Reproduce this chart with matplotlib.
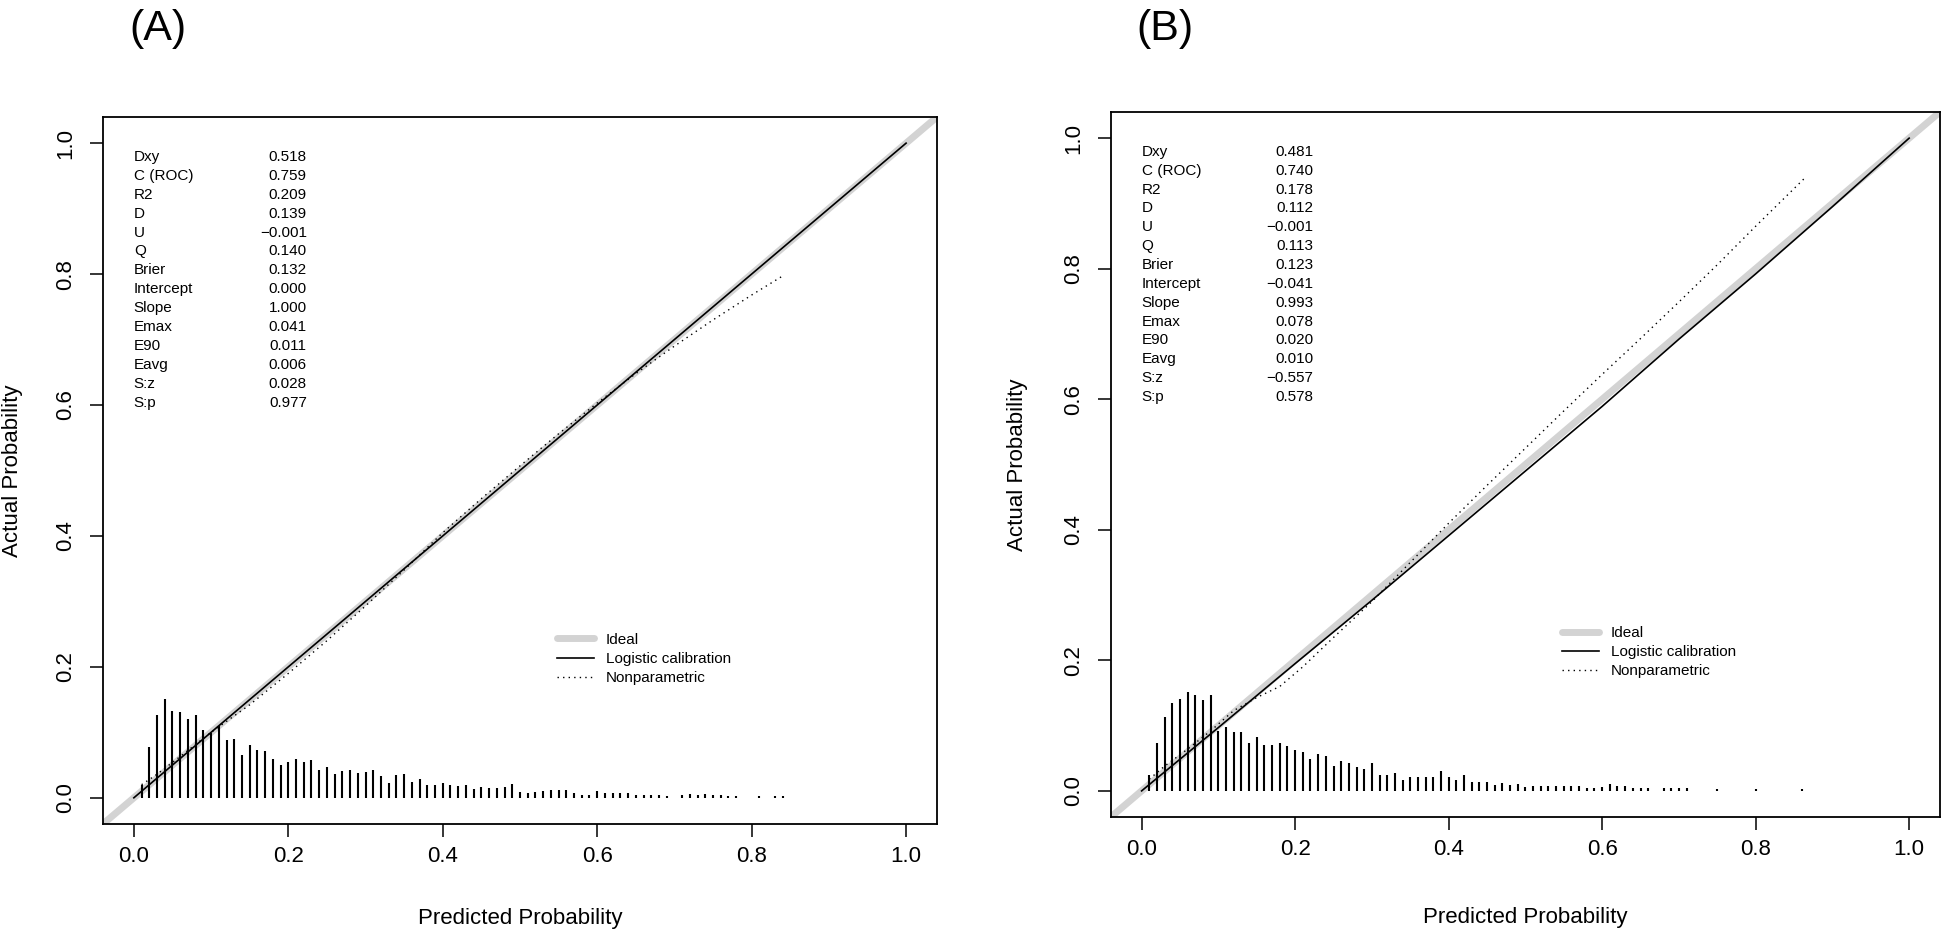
import matplotlib
matplotlib.use("Agg")
import matplotlib.pyplot as plt

plt.rcParams['font.family'] = ['Liberation Sans', 'DejaVu Sans']

STAT_NAMES = ["Dxy", "C (ROC)", "R2", "D", "U", "Q", "Brier", "Intercept",
              "Slope", "Emax", "E90", "Eavg", "S:z", "S:p"]
STATS_A = ["0.518", "0.759", "0.209", "0.139", "\u22120.001", "0.140", "0.132",
           "0.000", "1.000", "0.041", "0.011", "0.006", "0.028", "0.977"]
STATS_B = ["0.481", "0.740", "0.178", "0.112", "\u22120.001", "0.113", "0.123",
           "\u22120.041", "0.993", "0.078", "0.020", "0.010", "\u22120.557", "0.578"]

# spike histogram of predicted probabilities (percent positions, heights)
HIST_PCT_A = [1, 2, 3, 4, 5, 6, 7, 8, 9, 10, 11, 12, 13, 14, 15, 16, 17, 18, 19, 20,
              21, 22, 23, 24, 25, 26, 27, 28, 29, 30, 31, 32, 33, 34, 35, 36, 37, 38, 39, 40,
              41, 42, 43, 44, 45, 46, 47, 48, 49, 50, 51, 52, 53, 54, 55, 56, 57, 58, 59, 60,
              61, 62, 63, 64, 65, 66, 67, 68, 69, 71, 72, 73, 74, 75, 76, 77, 78, 81, 83, 84]
HIST_A = [0.019, 0.077, 0.126, 0.151, 0.133, 0.131, 0.121, 0.126, 0.104, 0.099,
          0.110, 0.089, 0.090, 0.065, 0.080, 0.073, 0.071, 0.059, 0.050, 0.054,
          0.060, 0.054, 0.057, 0.043, 0.047, 0.036, 0.041, 0.043, 0.038, 0.039,
          0.042, 0.034, 0.023, 0.035, 0.037, 0.024, 0.029, 0.019, 0.020, 0.023,
          0.019, 0.018, 0.019, 0.014, 0.017, 0.015, 0.015, 0.016, 0.021, 0.009,
          0.007, 0.009, 0.011, 0.012, 0.012, 0.012, 0.008, 0.004, 0.004, 0.011,
          0.008, 0.008, 0.007, 0.007, 0.004, 0.004, 0.004, 0.004, 0.003, 0.004,
          0.006, 0.004, 0.006, 0.004, 0.004, 0.003, 0.003, 0.003, 0.003, 0.003]

HIST_PCT_B = [1, 2, 3, 4, 5, 6, 7, 8, 9, 10, 11, 12, 13, 14, 15, 16, 17, 18, 19, 20,
              21, 22, 23, 24, 25, 26, 27, 28, 29, 30, 31, 32, 33, 34, 35, 36, 37, 38, 39, 40,
              41, 42, 43, 44, 45, 46, 47, 48, 49, 50, 51, 52, 53, 54, 55, 56, 57, 58, 59, 60,
              61, 62, 63, 64, 65, 66, 68, 69, 70, 71, 75, 80, 86]
HIST_B = [0.025, 0.073, 0.113, 0.135, 0.140, 0.152, 0.147, 0.139, 0.147, 0.092,
          0.098, 0.090, 0.090, 0.073, 0.082, 0.070, 0.070, 0.073, 0.068, 0.063,
          0.059, 0.049, 0.056, 0.053, 0.038, 0.046, 0.042, 0.037, 0.033, 0.042,
          0.025, 0.024, 0.027, 0.017, 0.022, 0.022, 0.022, 0.022, 0.030, 0.021,
          0.016, 0.024, 0.014, 0.014, 0.014, 0.009, 0.012, 0.009, 0.011, 0.006,
          0.007, 0.007, 0.007, 0.007, 0.007, 0.007, 0.007, 0.004, 0.004, 0.006,
          0.011, 0.007, 0.007, 0.004, 0.004, 0.004, 0.004, 0.004, 0.005, 0.005,
          0.003, 0.003, 0.003]

# logistic calibration curves
LOGIT_X_A = [0.0, 1.0]
LOGIT_Y_A = [0.0, 1.0]
LOGIT_X_B = [0.0, 0.1, 0.2, 0.3, 0.4, 0.5, 0.6, 0.7, 0.8, 0.9, 1.0]
LOGIT_Y_B = [0.0, 0.097, 0.195, 0.292, 0.391, 0.490, 0.589, 0.692, 0.792, 0.895, 1.0]

# nonparametric (loess) curves
NP_X_A = [0.01, 0.03, 0.06, 0.10, 0.15, 0.20, 0.25, 0.30, 0.35, 0.40, 0.45,
          0.50, 0.55, 0.60, 0.65, 0.70, 0.75, 0.80, 0.84]
NP_Y_A = [0.020, 0.036, 0.063, 0.100, 0.142, 0.190, 0.240, 0.293, 0.348, 0.405,
          0.457, 0.507, 0.556, 0.603, 0.648, 0.690, 0.730, 0.768, 0.797]
NP_X_B = [0.01, 0.03, 0.06, 0.09, 0.12, 0.15, 0.18, 0.21, 0.25, 0.30, 0.35,
          0.40, 0.45, 0.50, 0.55, 0.60, 0.65, 0.70, 0.75, 0.80, 0.865]
NP_Y_B = [0.018, 0.038, 0.064, 0.092, 0.123, 0.143, 0.160, 0.190, 0.235, 0.290,
          0.350, 0.410, 0.468, 0.525, 0.582, 0.638, 0.693, 0.749, 0.806, 0.865, 0.940]

TICKS = [0.0, 0.2, 0.4, 0.6, 0.8, 1.0]
TICK_LABELS = ["0.0", "0.2", "0.4", "0.6", "0.8", "1.0"]


def draw_panel(ax, hist_pct, hist, lx, ly, nx, ny, stats, xlab_y, ylab_x):
    ax.set_xlim(-0.04, 1.04)
    ax.set_ylim(-0.04, 1.04)

    ax.axline((0, 0), (1, 1), color="#d3d3d3", lw=5, label="Ideal",
              solid_capstyle="round", zorder=1)
    ax.plot(lx, ly, color="black", lw=1.2, label="Logistic calibration", zorder=3)
    ax.plot(nx, ny, color="black", lw=1.0, ls=(0, (1, 3)), label="Nonparametric",
            zorder=3)
    ax.vlines([p / 100 for p in hist_pct], 0, hist, color="black", lw=1.5, zorder=2)

    y0, dy = 0.979, 0.0289
    for i, (name, val) in enumerate(zip(STAT_NAMES, stats)):
        ax.text(0.0, y0 - i * dy, name, fontsize=11, va="center", ha="left")
        ax.text(0.224, y0 - i * dy, val, fontsize=11, va="center", ha="right")

    leg = ax.legend(loc="upper left", bbox_to_anchor=(0.548, 0.252),
                    bbox_transform=ax.transData, frameon=False, fontsize=11,
                    borderpad=0, borderaxespad=0, handlelength=2.4,
                    handletextpad=0.8, labelspacing=0.33)
    leg.get_lines()[0].set_solid_capstyle("round")

    ax.set_xticks(TICKS)
    ax.set_xticklabels(TICK_LABELS)
    ax.set_yticks(TICKS)
    ax.set_yticklabels(TICK_LABELS, rotation=90, va="center")
    ax.tick_params(axis="both", direction="out", length=9.5, width=1.1,
                   labelsize=16)
    ax.tick_params(axis="x", pad=6)
    ax.tick_params(axis="y", pad=10)
    for s in ax.spines.values():
        s.set_linewidth(1.3)

    ax.set_xlabel("Predicted Probability", fontsize=16)
    ax.set_ylabel("Actual Probability", fontsize=16)
    ax.xaxis.set_label_coords(0.5, xlab_y)
    ax.xaxis.label.set_va("center")
    ax.yaxis.set_label_coords(ylab_x, 0.5)
    ax.yaxis.label.set_va("center")


fig = plt.figure(figsize=(19.5, 9.32), dpi=100)
ax1 = fig.add_axes([0.0528, 0.1159, 0.4277, 0.7586])
ax2 = fig.add_axes([0.5697, 0.1234, 0.4251, 0.7564])

draw_panel(ax1, HIST_PCT_A, HIST_A, LOGIT_X_A, LOGIT_Y_A, NP_X_A, NP_Y_A,
           STATS_A, -0.133, -0.109)
draw_panel(ax2, HIST_PCT_B, HIST_B, LOGIT_X_B, LOGIT_Y_B, NP_X_B, NP_Y_B,
           STATS_B, -0.143, -0.113)

fig.text(158 / 1950, 1 - 29 / 932, "(A)", fontsize=31, ha="center", va="center")
fig.text(1165 / 1950, 1 - 29 / 932, "(B)", fontsize=31, ha="center", va="center")

fig.savefig("out.png", dpi=100)
